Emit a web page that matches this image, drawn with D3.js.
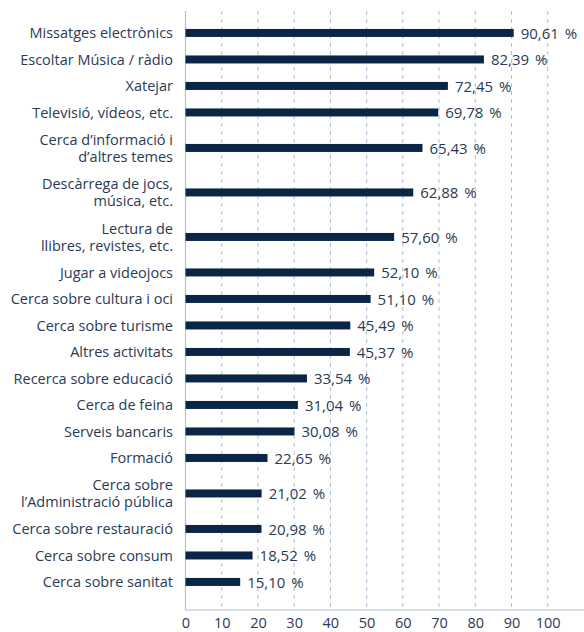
<!DOCTYPE html>
<html>
<head>
<meta charset="utf-8">
<script src="https://cdn.jsdelivr.net/npm/d3@7"></script>
<style>
  html, body { margin: 0; padding: 0; background: #fff; }
  svg { display: block; }
  text { font-family: "Open Sans", "Noto Sans", sans-serif; fill: #2b3a55; }
</style>
</head>
<body>
<svg id="chart" width="584" height="632"></svg>
<script>
// Activity labels (lines separated by "\n"), top to bottom
const categories = [
  "Missatges electrònics",
  "Escoltar Música / ràdio",
  "Xatejar",
  "Televisió, vídeos, etc.",
  "Cerca d’informació i\nd’altres temes",
  "Descàrrega de jocs,\nmúsica, etc.",
  "Lectura de\nllibres, revistes, etc.",
  "Jugar a videojocs",
  "Cerca sobre cultura i oci",
  "Cerca sobre turisme",
  "Altres activitats",
  "Recerca sobre educació",
  "Cerca de feina",
  "Serveis bancaris",
  "Formació",
  "Cerca sobre\nl’Administració pública",
  "Cerca sobre restauració",
  "Cerca sobre consum",
  "Cerca sobre sanitat"
];

// Percentage of users per activity
const values = [
  90.61, 82.39, 72.45, 69.78, 65.43, 62.88, 57.60, 52.10, 51.10, 45.49,
  45.37, 33.54, 31.04, 30.08, 22.65, 21.02, 20.98, 18.52, 15.10
];

// Axis ticks
const ticks = [0, 10, 20, 30, 40, 50, 60, 70, 80, 90, 100];

const svg = d3.select("#chart");
const x0 = 185.5, x100 = 547.7;
const plotTop = 11, plotBottom = 610;
const x = d3.scaleLinear().domain([0, 100]).range([x0, x100]);

// Rows grow with the number of label lines
const rowH1 = 26.5, rowH2 = 44.5;
const rows = categories.map((c, i) => ({ label: c, value: values[i], lines: c.split("\n") }));
let acc = 0;
rows.forEach(r => {
  r.h = r.lines.length > 1 ? rowH2 : rowH1;
  r.start = acc;
  acc += r.h;
});
const y = d3.scaleLinear().domain([0, acc]).range([20, 20 + acc]);

const fmt = v => v.toFixed(2).replace(".", ",") + " %";

// Dashed gridlines
svg.append("g")
  .selectAll("line")
  .data(ticks.filter(t => t > 0))
  .join("line")
  .attr("x1", d => x(d)).attr("x2", d => x(d))
  .attr("y1", plotTop).attr("y2", plotBottom)
  .attr("stroke", "#aebfd6")
  .attr("stroke-width", 1)
  .attr("stroke-dasharray", "4,4");

// Axis lines
svg.append("line")
  .attr("x1", x0).attr("x2", x0)
  .attr("y1", plotTop).attr("y2", plotBottom)
  .attr("stroke", "#aebfd6").attr("stroke-width", 1.2);
svg.append("line")
  .attr("x1", x0).attr("x2", 584)
  .attr("y1", plotBottom).attr("y2", plotBottom)
  .attr("stroke", "#aebfd6").attr("stroke-width", 1.2);

// Tick labels
const xAxis = d3.axisBottom(x).tickValues(ticks).tickSize(0).tickPadding(8).tickFormat(d3.format("d"));
const axisG = svg.append("g")
  .attr("transform", `translate(0,${plotBottom})`)
  .call(xAxis);
axisG.select(".domain").remove();
axisG.selectAll("text")
  .attr("font-size", 14.5)
  .attr("font-family", "'Open Sans', 'Noto Sans', sans-serif")
  .attr("fill", "#2b3a55");

// Bars
const barH = 8;
const rowG = svg.append("g").selectAll("g").data(rows).join("g")
  .attr("transform", d => `translate(0,${y(d.start + d.h / 2)})`);

rowG.append("rect")
  .attr("x", x0)
  .attr("y", -barH / 2 - 0.3)
  .attr("width", d => x(d.value) - x0)
  .attr("height", barH)
  .attr("fill", "#0b2547");

// Value labels
rowG.append("text")
  .attr("x", d => x(d.value) + 7)
  .attr("y", 0)
  .attr("dy", "0.35em")
  .attr("font-size", 15)
  .style("word-spacing", "2px")
  .text(d => fmt(d.value));

// Category labels
rowG.append("text")
  .attr("text-anchor", "end")
  .attr("font-size", 14.5)
  .each(function(d) {
    const t = d3.select(this);
    const lh = 17.3;
    const off = -(d.lines.length - 1) * lh / 2;
    d.lines.forEach((ln, k) => {
      t.append("tspan")
        .attr("x", 173)
        .attr("y", off + k * lh)
        .attr("dy", "0.35em")
        .text(ln);
    });
  });
</script>
</body>
</html>
